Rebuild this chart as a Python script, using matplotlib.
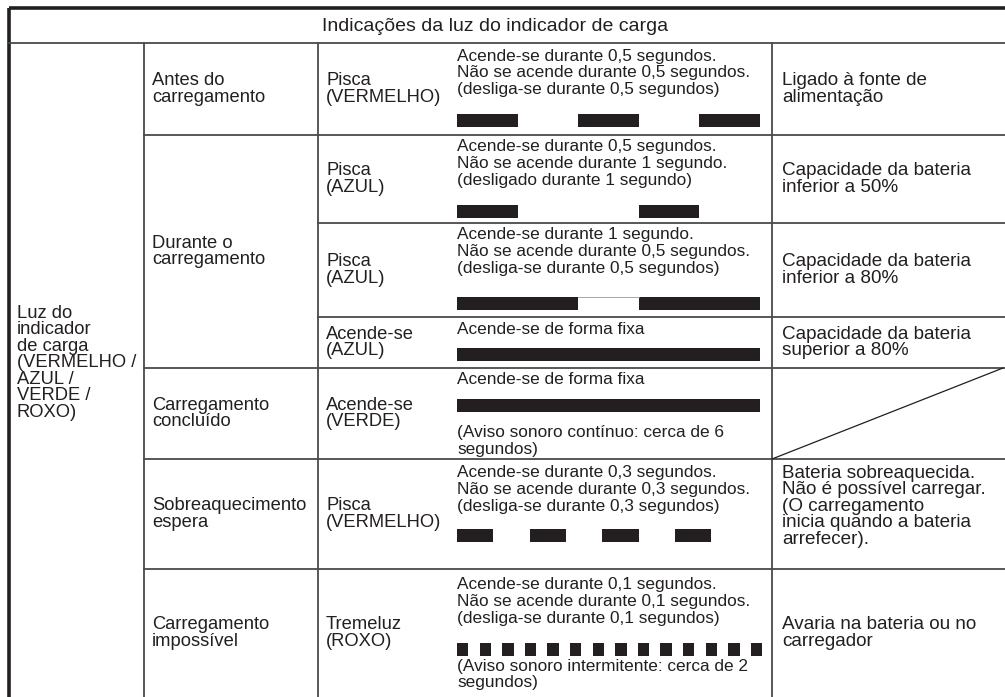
import matplotlib.pyplot as plt
from matplotlib.patches import Rectangle

# =============================
# DADOS DA TABELA
# =============================
HEADER = "Indicações da luz do indicador de carga"
LIGHT = ["Luz do", "indicador", "de carga", "(VERMELHO /", "AZUL /", "VERDE /", "ROXO)"]

# (texto, primeira linha, última linha + 1)
STATES = [
    (["Antes do", "carregamento"], 0, 1),
    (["Durante o", "carregamento"], 1, 4),
    (["Carregamento", "concluído"], 4, 5),
    (["Sobreaquecimento", "espera"], 5, 6),
    (["Carregamento", "impossível"], 6, 7),
]

MODES = [
    ["Pisca", "(VERMELHO)"],
    ["Pisca", "(AZUL)"],
    ["Pisca", "(AZUL)"],
    ["Acende-se", "(AZUL)"],
    ["Acende-se", "(VERDE)"],
    ["Pisca", "(VERMELHO)"],
    ["Tremeluz", "(ROXO)"],
]

DESC_TOP = [
    ["Acende-se durante 0,5 segundos.", "Não se acende durante 0,5 segundos.", "(desliga-se durante 0,5 segundos)"],
    ["Acende-se durante 0,5 segundos.", "Não se acende durante 1 segundo.", "(desligado durante 1 segundo)"],
    ["Acende-se durante 1 segundo.", "Não se acende durante 0,5 segundos.", "(desliga-se durante 0,5 segundos)"],
    ["Acende-se de forma fixa"],
    ["Acende-se de forma fixa"],
    ["Acende-se durante 0,3 segundos.", "Não se acende durante 0,3 segundos.", "(desliga-se durante 0,3 segundos)"],
    ["Acende-se durante 0,1 segundos.", "Não se acende durante 0,1 segundos.", "(desliga-se durante 0,1 segundos)"],
]
DESC_BOTTOM = [
    [], [], [], [],
    ["(Aviso sonoro contínuo: cerca de 6", "segundos)"],
    [],
    ["(Aviso sonoro intermitente: cerca de 2", "segundos)"],
]

# padrão de luz: segundos aceso / apagado e número de pulsos
ON_S = [0.5, 0.5, 1.0, 2.5, 2.5, 0.3, 0.1]
OFF_S = [0.5, 1.0, 0.5, 0.0, 0.0, 0.3, 0.1]
PULSES = [3, 2, 2, 1, 1, 4, 14]

MEANING = [
    ["Ligado à fonte de", "alimentação"],
    ["Capacidade da bateria", "inferior a 50%"],
    ["Capacidade da bateria", "inferior a 80%"],
    ["Capacidade da bateria", "superior a 80%"],
    None,
    ["Bateria sobreaquecida.", "Não é possível carregar.", "(O carregamento", "inicia quando a bateria", "arrefecer)."],
    ["Avaria na bateria ou no", "carregador"],
]

# =============================
# GEOMETRIA (pixels)
# =============================
W, H = 1005, 697
COLS = [9, 144, 318, 772, 1010]
ROWS = [8, 43, 135, 223, 317, 368, 459, 569, 697]
TXT_OFF = [13, 12, 12, 12, 12, 14, 16]      # 1a linha da coluna 4
BAR_OFF = [71, 70, 74, 31, 31, 70, 74]      # topo das barras
BOT_OFF = [0, 0, 0, 0, 65, 0, 97]           # texto por baixo das barras
PX_PER_S = [121, 121, 121, 121, 121, 121, 113]
BAR_H = 13
LINE_H = 16.6
FS = 13.2        # colunas 1-3
FS_DESC = 12.4   # coluna 4
FS_MEAN = 13.6   # coluna 5
FS_HEAD = 14.0
INK = "#231f20"
GRID = "#4a4a4a"

plt.rcParams["font.family"] = ["Liberation Sans", "DejaVu Sans"]

fig = plt.figure(figsize=(W / 100, H / 100), dpi=100)
ax = fig.add_axes([0, 0, 1, 1])
ax.set_xlim(0, W)
ax.set_ylim(H, 0)
ax.axis("off")


def lines(x, y0, txt, fs=FS):
    for i, t in enumerate(txt):
        ax.text(x, y0 + i * LINE_H, t, fontsize=fs, color=INK, va="center", ha="left")


def centered(x, top, bottom, txt, fs=FS):
    y0 = (top + bottom) / 2 - (len(txt) - 1) * LINE_H / 2
    lines(x, y0, txt, fs)


# cabeçalho
ax.text(495, (ROWS[0] + ROWS[1]) / 2 + 1, HEADER, fontsize=FS_HEAD, color=INK, ha="center", va="center")

# grelha
ax.plot([COLS[0], W], [ROWS[0], ROWS[0]], color=INK, lw=2.6, solid_capstyle="butt")
ax.plot([COLS[0], COLS[0]], [ROWS[0], H], color=INK, lw=2.6, solid_capstyle="butt")
ax.plot([COLS[0], W], [ROWS[1], ROWS[1]], color=GRID, lw=1.3)
for c in COLS[1:4]:
    ax.plot([c, c], [ROWS[1], H], color=GRID, lw=1.3)
for r in ROWS[2:8]:
    ax.plot([COLS[2], W], [r, r], color=GRID, lw=1.3)
for _, a, b in STATES[:-1]:
    ax.plot([COLS[1], COLS[2]], [ROWS[b + 1], ROWS[b + 1]], color=GRID, lw=1.3)

# coluna 1
lines(COLS[0] + 8, 313, LIGHT)

# coluna 2
for txt, a, b in STATES:
    centered(COLS[1] + 8, ROWS[a + 1], ROWS[b + 1], txt)

# colunas 3, 4, 5
for i in range(7):
    top, bot = ROWS[i + 1], ROWS[i + 2]
    centered(COLS[2] + 8, top, bot, MODES[i])

    x0 = 457
    lines(x0, top + TXT_OFF[i], DESC_TOP[i], FS_DESC)
    y = top + BAR_OFF[i]
    s = PX_PER_S[i]
    xx = x0
    for k in range(PULSES[i]):
        w = ON_S[i] * s
        ax.add_patch(Rectangle((xx, y), w, BAR_H, facecolor=INK, edgecolor="none"))
        if i == 2 and k == 0:
            ax.plot([xx + w, xx + w + OFF_S[i] * s], [y + 0.3, y + 0.3], color="#9a9a9a", lw=0.6)
        xx += w + OFF_S[i] * s
    if DESC_BOTTOM[i]:
        lines(x0, top + BOT_OFF[i], DESC_BOTTOM[i], FS_DESC)

    if MEANING[i] is None:
        ax.plot([COLS[3], W - 2], [bot, top], color=INK, lw=0.9)
    elif i == 5:
        lines(COLS[3] + 10, top + 14, MEANING[i], FS_MEAN)
    else:
        centered(COLS[3] + 10, top, bot, MEANING[i], FS_MEAN)

fig.savefig("out.png", dpi=100)
